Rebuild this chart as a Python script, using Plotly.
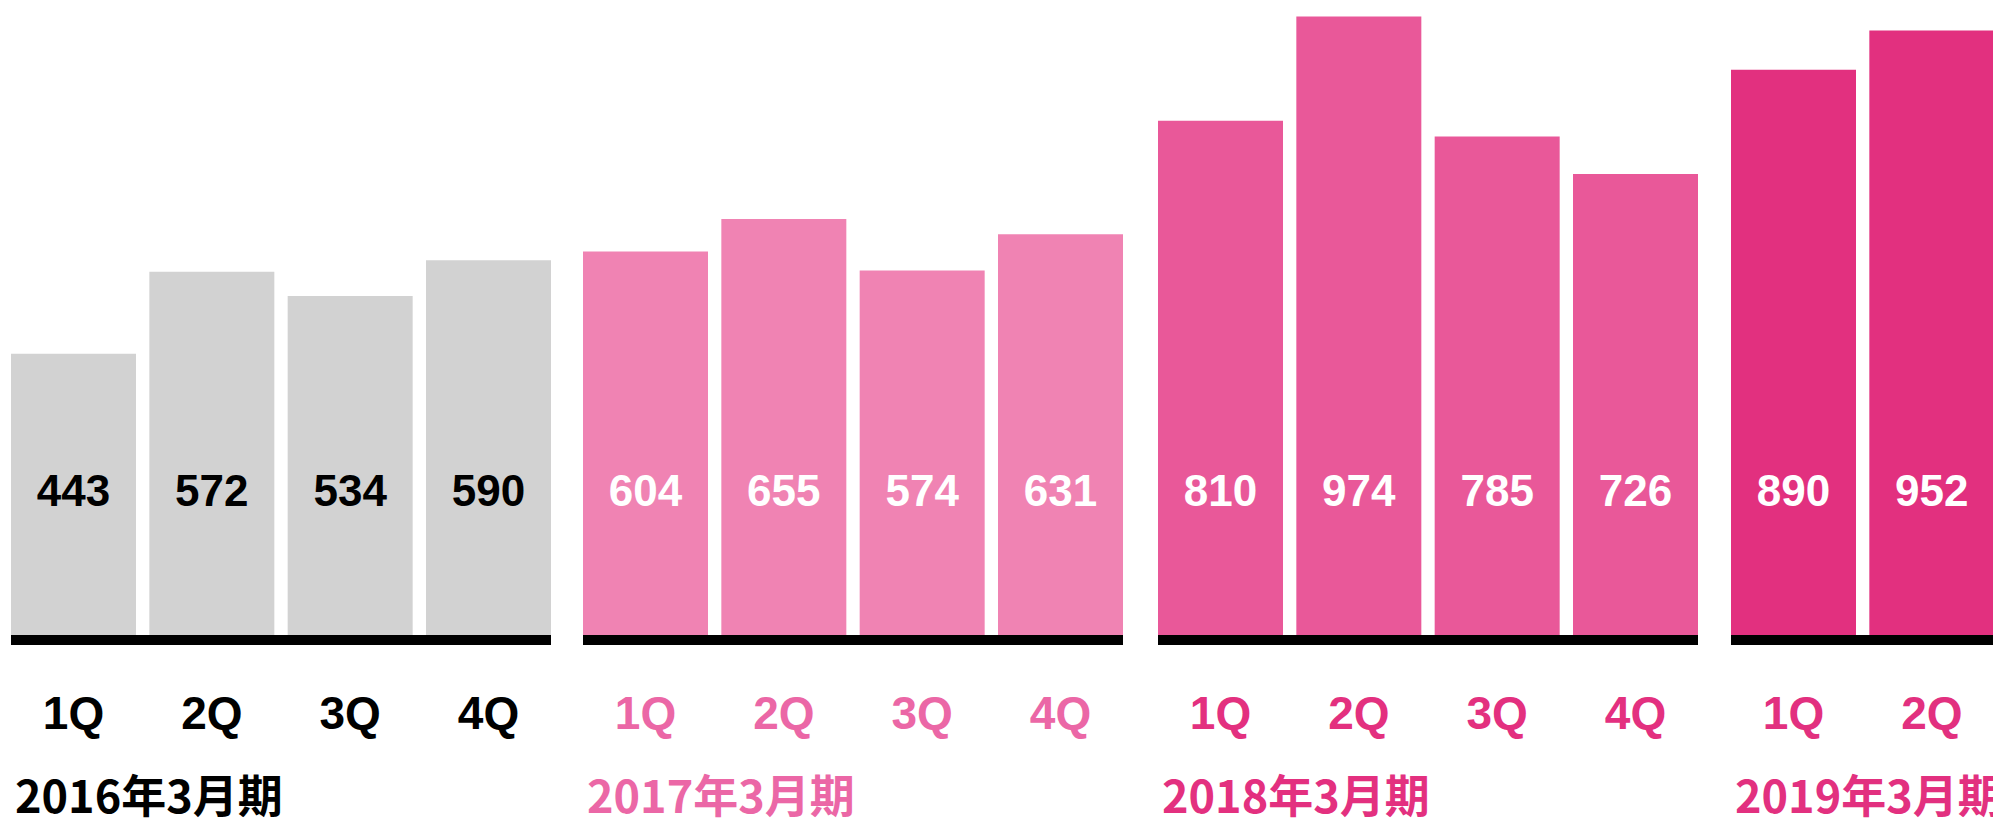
import plotly.graph_objects as go

# ---- data ----
periods = ["2016年3月期", "2017年3月期", "2018年3月期", "2019年3月期"]
quarters_2016 = ["1Q", "2Q", "3Q", "4Q"]
quarters_2017 = ["1Q", "2Q", "3Q", "4Q"]
quarters_2018 = ["1Q", "2Q", "3Q", "4Q"]
quarters_2019 = ["1Q", "2Q"]
values_2016 = [443, 572, 534, 590]
values_2017 = [604, 655, 574, 631]
values_2018 = [810, 974, 785, 726]
values_2019 = [890, 952]

groups = [
    (quarters_2016, values_2016),
    (quarters_2017, values_2017),
    (quarters_2018, values_2018),
    (quarters_2019, values_2019),
]

# ---- styling ----
W, H = 1993, 827
bar_colors = ["#d2d2d2", "#f083b3", "#e95899", "#e2307f"]
label_colors = ["#000000", "#eb67a6", "#e3307f", "#e2307f"]
value_colors = ["#000000", "#ffffff", "#ffffff", "#ffffff"]
group_px = [(11, 551), (583, 1123), (1158, 1698), (1731, 1993)]
plot_bottom_px = 635
y_max = 1000
label_y = 221
h = 0.0482  # half gap in category units
cw = 540 / (4 - 2 * h)  # pixels per category

fig = go.Figure()
for i, (cats, vals) in enumerate(groups):
    ax = "x" if i == 0 else f"x{i+1}"
    fig.add_trace(go.Bar(
        x=cats, y=vals, xaxis=ax, yaxis="y",
        marker=dict(color=bar_colors[i], line=dict(width=0)),
        hoverinfo="skip",
    ))
    fig.add_trace(go.Scatter(
        x=cats, y=[label_y] * len(cats), xaxis=ax, yaxis="y",
        mode="text", text=[str(v) for v in vals],
        textposition="middle center",
        textfont=dict(family="Liberation Sans", size=44, color=value_colors[i], weight="bold"),
        hoverinfo="skip",
    ))
    x0, x1 = group_px[i]
    r0 = -0.5 + h
    r1 = r0 + (x1 - x0) / cw
    axis_cfg = dict(
        domain=[x0 / W, x1 / W],
        anchor="y",
        type="category",
        range=[r0, r1],
        showgrid=False,
        zeroline=False,
        showline=True,
        linecolor="#000000",
        linewidth=10,
        ticks="",
        ticklabelstandoff=29,
        tickfont=dict(family="Liberation Sans", size=46, color=label_colors[i], weight="bold"),
        fixedrange=True,
    )
    key = "xaxis" if i == 0 else f"xaxis{i+1}"
    fig.update_layout(**{key: axis_cfg})
    fig.add_annotation(
        x=(x0 + 3) / W, y=0.0, xref="paper", yref="paper",
        xanchor="left", yanchor="bottom", showarrow=False, borderpad=0,
        text=periods[i],
        font=dict(family="Noto Sans CJK JP", size=45, color=label_colors[i], weight="bold"),
    )

fig.update_layout(
    width=W, height=H,
    margin=dict(l=0, r=0, t=0, b=0),
    paper_bgcolor="#ffffff", plot_bgcolor="#ffffff",
    showlegend=False,
    bargap=2 * h,
    yaxis=dict(domain=[1 - plot_bottom_px / H, 1], range=[0, y_max], visible=False, fixedrange=True),
)

fig.write_html("out.html", config={"displayModeBar": False},
               post_script="document.body.style.margin='0';")
